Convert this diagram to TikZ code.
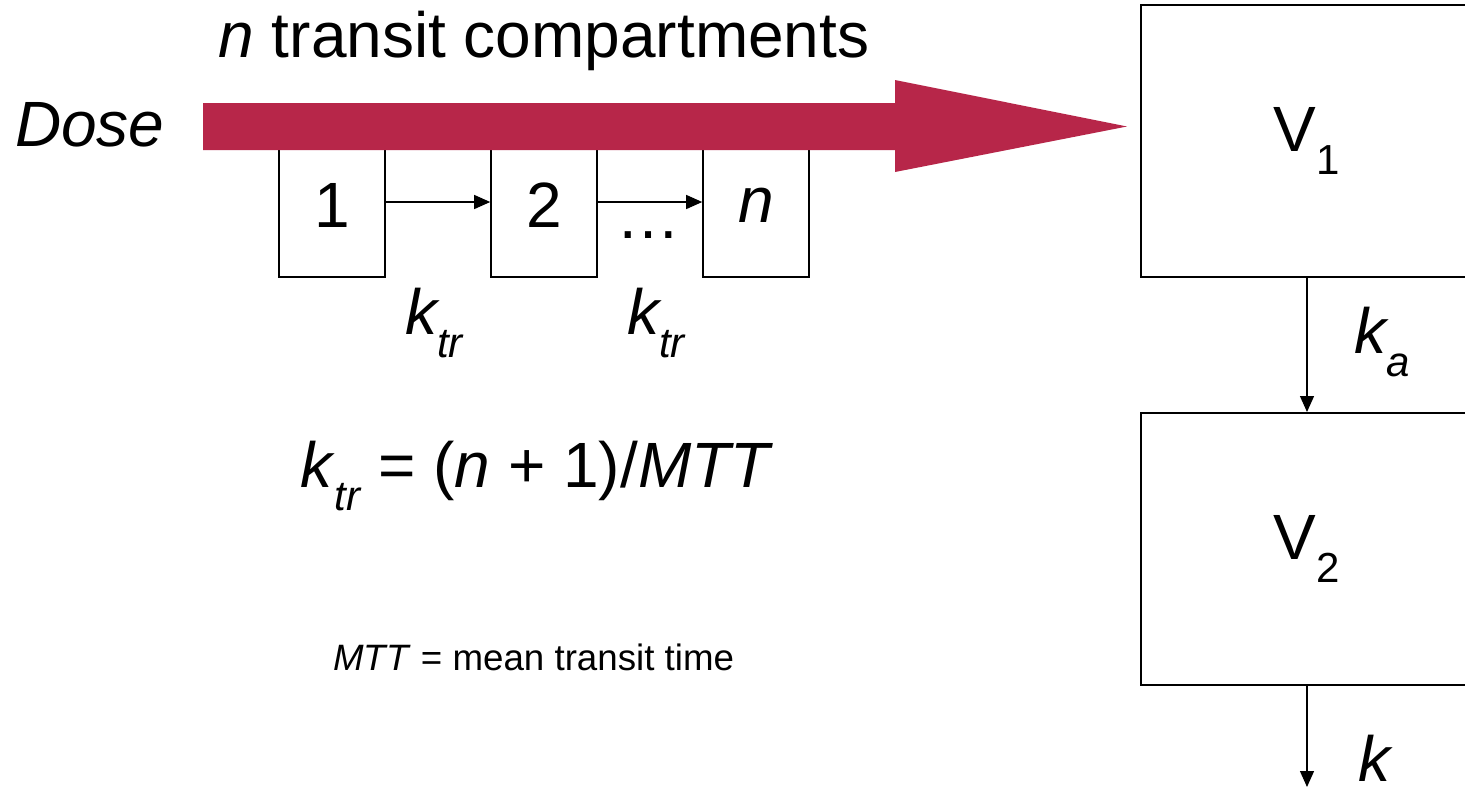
\documentclass[tikz,border=0pt]{standalone}
\usepackage{fontspec}
\setmainfont{Liberation Sans}
\usetikzlibrary{arrows.meta}
\definecolor{doseRed}{RGB}{183,38,73}
\newcommand{\mysub}[1]{\raisebox{-0.36em}{\fontsize{42}{42}\selectfont #1}}
\begin{document}
\begin{tikzpicture}[x=1pt,y=-1pt,
  smallbox/.style={draw, line width=1.6pt, minimum width=106pt, minimum height=137pt, inner sep=0pt, font=\fontsize{64}{64}\selectfont},
  bigbox/.style={draw, line width=2pt, minimum width=332pt, minimum height=272pt, inner sep=0pt, font=\fontsize{64}{64}\selectfont},
  lbl/.style={inner sep=0pt, font=\fontsize{64}{64}\selectfont},
  smalllbl/.style={inner sep=0pt, font=\fontsize{36.7}{37}\selectfont},
  conn/.style={line width=1.3pt, -{Triangle[length=16pt,width=14pt]}}
]
\useasboundingbox (0,0) rectangle (1465,793);
\clip (0,0) rectangle (1465,793);
\fill[white] (0,0) rectangle (1465,793);

% transit compartments
\node[smallbox] (c1) at (332,208.5) {\raisebox{7pt}{1}};
\node[smallbox] (c2) at (544,208.5) {\raisebox{7pt}{2}};
\node[smallbox] (cn) at (756,208.5) {\raisebox{7pt}{\itshape n}};
\draw[conn] ([yshift=6.5pt]c1.east) -- ([yshift=6.5pt]c2.west);
\draw[conn] ([yshift=6.5pt]c2.east) -- ([yshift=6.5pt]cn.west);
\node[lbl, anchor=base] (dots) at (648,238) {…};

% central compartments
\node[bigbox] (V1) at (1307,141) {\raisebox{-4pt}{V\mysub{1}}};
\node[bigbox] (V2) at (1307,549) {\raisebox{-4pt}{V\mysub{2}}};
\coordinate (kend) at (1307,787);
\draw[conn] (V1.south) -- (V2.north);
\draw[conn] (V2.south) -- (kend);

% dose arrow
\coordinate (doseS) at (203,126.5);
\coordinate (doseT) at (1127,126.5);
\fill[doseRed] (doseS |- 0,103) -- (895,103) -- (895,80) -- (doseT) -- (895,172) -- (895,150) -- (doseS |- 0,150) -- cycle;

% labels
\node[lbl, anchor=base] (title) at (544,57) {\itshape n\upshape\ transit compartments};
\node[lbl, anchor=base west] (dose) at (15,146) {\itshape Dose};
\node[lbl, anchor=base] (k1) at (434,334) {\itshape k\mysub{tr}};
\node[lbl, anchor=base] (k2) at (656,334) {\itshape k\mysub{tr}};
\node[lbl, anchor=base west] (ka) at (1354,353) {\itshape k\mysub{a}};
\node[lbl, anchor=base west] (kel) at (1358,781) {\itshape k};
\node[lbl, anchor=base west] (formula) at (300,487) {\textit{k}\mysub{\itshape tr} = (\textit{n} + 1)/\textit{MTT}};
\node[smalllbl, anchor=base west] (mtt) at (333,670) {\textit{MTT} = mean transit time};
\end{tikzpicture}
\end{document}
